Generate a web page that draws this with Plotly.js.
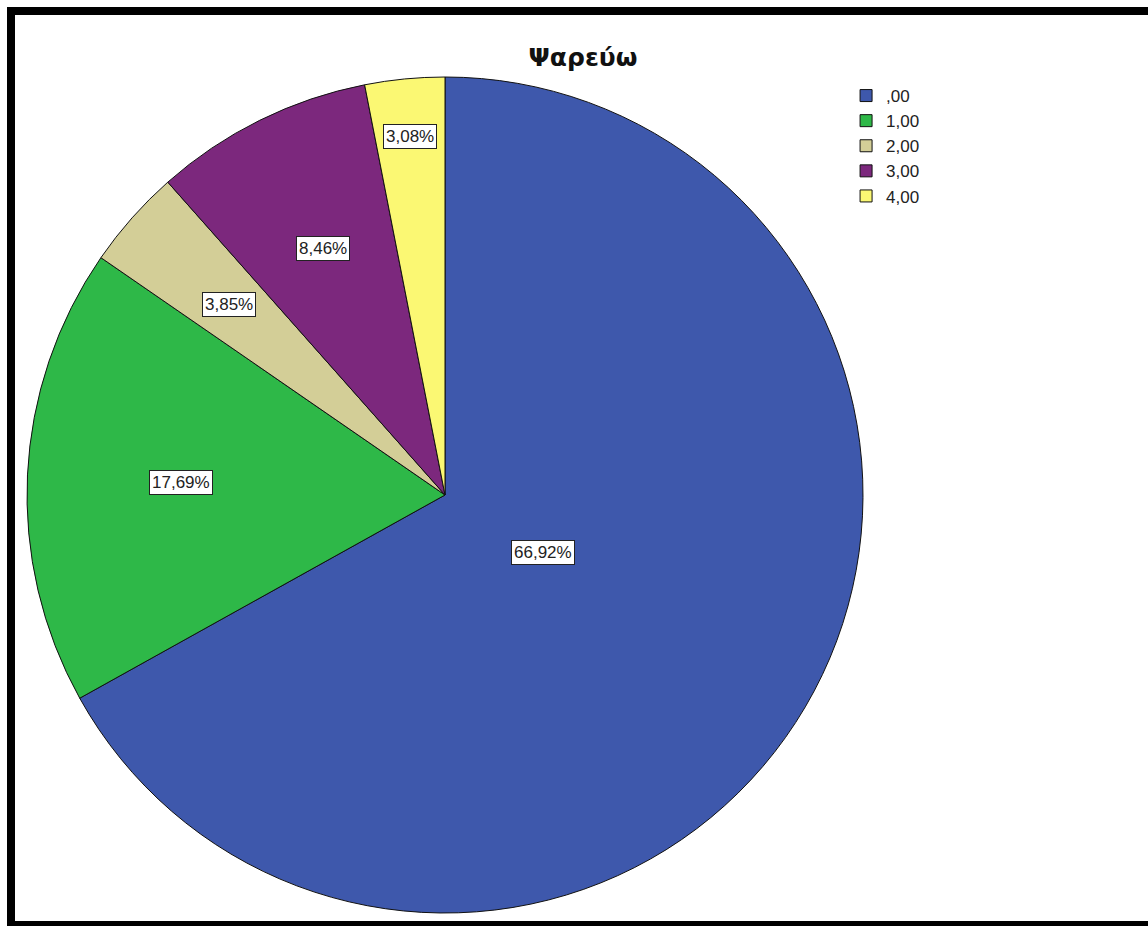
<!DOCTYPE html>
<html>
<head>
<meta charset="utf-8">
<script src="https://cdn.plot.ly/plotly-3.0.1.min.js"></script>
<style>
  html, body { margin: 0; padding: 0; background: #ffffff; }
  #chart { width: 1148px; height: 926px; }
</style>
</head>
<body>
<div id="chart"></div>
<script>
// ---- data ----
const categories = [',00', '1,00', '2,00', '3,00', '4,00'];
const percents = [66.92, 17.69, 3.85, 8.46, 3.08];
const sliceColors = ['#3E58AC', '#2EB848', '#D3CE97', '#7C287D', '#FBF873'];
const chartTitle = 'Ψαρεύω';

// ---- layout constants ----
const W = 1148, H = 926;
const cx = 445, cy = 495, R = 418;
const fontFam = 'Liberation Sans, Arial, sans-serif';
const labelSize = 17;

function fmt(p) { return p.toFixed(2).replace('.', ',') + '%'; }

// label positions from data (sector centroid, pushed outward if box does not fit)
const total = percents.reduce((a, b) => a + b, 0);
let cum = 0;
const annotations = percents.map((p, i) => {
  const theta = p / total * 2 * Math.PI;
  const alpha = theta / 2;
  const mid = (cum / total) * 2 * Math.PI + alpha;
  cum += p;
  let r = (2 / 3) * Math.sin(alpha) / alpha;
  const txt = fmt(p);
  const boxW = txt.length * 0.56 * labelSize + 8;
  if (alpha < Math.PI / 2) {
    const need = boxW * 1.25 / (2 * R * Math.sin(alpha));
    if (need > r) r = Math.min(need, 0.9);
  }
  const px = cx + r * R * Math.sin(mid);
  const py = cy - r * R * Math.cos(mid);
  return {
    x: px / W, y: 1 - py / H, xref: 'paper', yref: 'paper',
    text: txt, showarrow: false,
    font: { family: fontFam, size: labelSize, color: '#222222' },
    bgcolor: '#ffffff', bordercolor: '#222222', borderwidth: 1, borderpad: 2,
    xanchor: 'center', yanchor: 'middle'
  };
});

const trace = {
  type: 'pie',
  labels: categories,
  values: percents,
  sort: false,
  direction: 'clockwise',
  rotation: 0,
  textinfo: 'none',
  hoverinfo: 'label+percent',
  marker: { colors: sliceColors, line: { color: '#111111', width: 1 } },
  domain: { x: [(cx - R) / W, (cx + R) / W], y: [1 - (cy + R) / H, 1 - (cy - R) / H] }
};

const layout = {
  width: W, height: H,
  margin: { l: 0, r: 0, t: 0, b: 0 },
  paper_bgcolor: '#ffffff',
  title: {
    text: chartTitle,
    font: { family: 'DejaVu Sans, sans-serif', size: 25, weight: 700, color: '#111111' },
    x: 583 / W, xref: 'paper', xanchor: 'center',
    y: 1 - 57 / H, yref: 'paper', yanchor: 'middle'
  },
  showlegend: true,
  legend: {
    x: 0.737, y: 1 - 78 / H, xanchor: 'left', yanchor: 'top',
    font: { family: fontFam, size: 17, color: '#222222' },
    bgcolor: 'rgba(0,0,0,0)', traceorder: 'normal', tracegroupgap: 0
  },
  annotations: annotations,
  shapes: [
    { type: 'line', xref: 'paper', yref: 'paper', x0: 11 / W, x1: 11 / W, y0: 0, y1: 1 - 7 / H, line: { color: '#000', width: 8 } },
    { type: 'line', xref: 'paper', yref: 'paper', x0: 7 / W, x1: 1, y0: 1 - 11 / H, y1: 1 - 11 / H, line: { color: '#000', width: 8 } },
    { type: 'line', xref: 'paper', yref: 'paper', x0: 7 / W, x1: 1, y0: 1 - 924 / H, y1: 1 - 924 / H, line: { color: '#000', width: 6 } }
  ]
};

Plotly.newPlot('chart', [trace], layout, { displayModeBar: false, staticPlot: true });
</script>
</body>
</html>
